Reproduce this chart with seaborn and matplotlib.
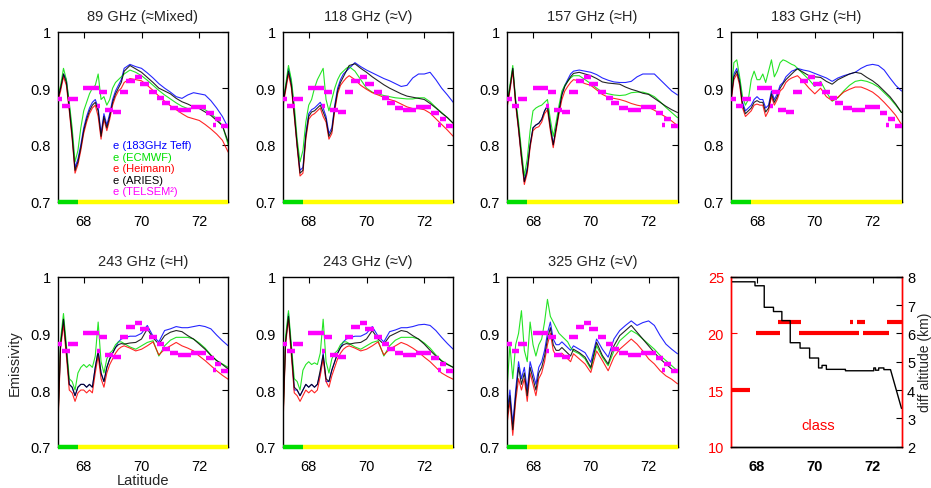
import matplotlib
matplotlib.use("Agg")
import matplotlib.pyplot as plt
import seaborn as sns
import pandas as pd

sns.set_theme(style="white")
plt.rcParams["font.family"] = ["Liberation Sans", "DejaVu Sans"]

# ---------------- data ----------------
LAT = [67.1, 67.2, 67.3, 67.4, 67.5, 67.6, 67.7, 67.8, 67.9, 68.0,
       68.1, 68.2, 68.3, 68.4, 68.5, 68.6, 68.7, 68.8, 68.9, 69.0,
       69.1, 69.2, 69.3,
       69.4, 69.6, 69.8, 70.0, 70.2, 70.4, 70.6, 70.8, 71.0, 71.2,
       71.4, 71.6, 71.8, 72.0, 72.2, 72.4, 72.6, 72.8, 73.0]

TITLES = ["89 GHz (≈Mixed)", "118 GHz (≈V)", "157 GHz (≈H)", "183 GHz (≈H)",
          "243 GHz (≈H)", "243 GHz (≈V)", "325 GHz (≈V)"]

SERIES = ["e (183GHz Teff)", "e (ECMWF)", "e (Heimann)", "e (ARIES)"]
COLORS = ["#0000ff", "#00e000", "#ff0000", "#000000"]

# 89 GHz
teff_89 = [.880, .900, .925, .915, .870, .820, .760, .775, .800, .830, .850, .865, .875, .880, .865, .820, .855, .835, .855, .880, .895, .905, .915,
           .935, .942, .938, .935, .927, .918, .908, .900, .893, .885, .882, .888, .892, .890, .888, .878, .865, .850, .830]
ecmwf_89 = [.885, .905, .935, .915, .875, .830, .770, .790, .830, .860, .875, .890, .900, .905, .925, .880, .885, .870, .880, .900, .910, .915, .920,
            .925, .932, .928, .922, .914, .905, .896, .888, .881, .874, .868, .864, .865, .866, .862, .855, .846, .834, .800]
heim_89 = [.875, .895, .920, .905, .860, .810, .750, .765, .790, .820, .840, .855, .865, .870, .850, .810, .845, .825, .845, .870, .885, .895, .900,
           .910, .917, .915, .913, .905, .896, .886, .877, .869, .862, .855, .849, .846, .843, .836, .828, .819, .808, .787]
aries_89 = [.880, .900, .925, .910, .865, .815, .755, .770, .795, .825, .845, .860, .870, .875, .860, .815, .850, .830, .850, .875, .890, .900, .910,
            .930, .940, .934, .928, .919, .910, .900, .895, .890, .882, .876, .872, .867, .864, .858, .852, .843, .834, .805]
# 118 GHz
teff_118 = [.870, .900, .935, .910, .860, .800, .755, .760, .820, .855, .862, .865, .870, .875, .865, .850, .820, .830, .870, .900, .915, .925, .930,
            .935, .945, .938, .932, .927, .922, .917, .913, .908, .903, .905, .918, .925, .925, .928, .915, .900, .888, .875]
ecmwf_118 = [.875, .905, .940, .915, .870, .810, .770, .790, .840, .870, .880, .900, .915, .925, .935, .880, .860, .880, .900, .915, .925, .930, .935,
             .938, .930, .915, .900, .893, .890, .887, .885, .883, .882, .881, .881, .883, .883, .876, .866, .857, .848, .838]
heim_118 = [.865, .895, .925, .900, .850, .795, .745, .750, .810, .845, .852, .855, .860, .865, .850, .840, .810, .820, .860, .890, .905, .912, .918,
            .922, .915, .905, .898, .892, .888, .884, .880, .877, .872, .867, .864, .864, .862, .856, .846, .836, .826, .815]
aries_118 = [.870, .900, .930, .905, .855, .800, .750, .755, .815, .850, .858, .860, .865, .870, .858, .845, .815, .825, .865, .895, .910, .920, .930,
             .940, .943, .935, .928, .920, .913, .906, .900, .895, .890, .886, .884, .882, .880, .873, .865, .856, .848, .838]
# 157 GHz
teff_157 = [.870, .900, .935, .875, .830, .780, .735, .760, .800, .830, .835, .838, .845, .860, .870, .835, .800, .830, .860, .890, .905, .915, .925,
            .930, .932, .930, .928, .924, .918, .914, .911, .910, .910, .912, .920, .925, .925, .925, .915, .905, .895, .888]
ecmwf_157 = [.875, .905, .940, .880, .840, .790, .745, .775, .825, .860, .865, .868, .870, .875, .880, .845, .815, .840, .870, .895, .905, .912, .918,
             .922, .922, .915, .908, .900, .893, .890, .888, .887, .888, .892, .893, .893, .890, .885, .876, .866, .857, .848]
heim_157 = [.865, .895, .930, .870, .825, .775, .730, .750, .795, .825, .830, .832, .840, .855, .862, .825, .795, .825, .855, .880, .895, .903, .910,
            .915, .913, .908, .905, .897, .889, .884, .882, .880, .877, .873, .870, .868, .866, .861, .855, .849, .842, .834]
aries_157 = [.870, .900, .935, .875, .830, .780, .735, .755, .800, .830, .835, .838, .845, .860, .868, .830, .800, .830, .860, .888, .903, .912, .920,
             .926, .928, .925, .922, .917, .911, .909, .908, .907, .902, .898, .895, .891, .889, .882, .875, .868, .862, .857]
# 183 GHz
teff_183 = [.880, .925, .935, .915, .875, .860, .865, .870, .880, .885, .880, .880, .865, .870, .895, .880, .890, .905, .910, .920, .925, .930, .932,
            .935, .932, .930, .926, .922, .918, .912, .918, .922, .925, .928, .935, .940, .942, .940, .932, .918, .905, .895]
ecmwf_183 = [.885, .945, .950, .920, .885, .870, .880, .915, .930, .915, .915, .925, .910, .930, .950, .920, .930, .945, .950, .948, .945, .942, .940,
             .935, .925, .915, .903, .912, .893, .877, .883, .895, .905, .912, .914, .912, .908, .902, .892, .882, .870, .857]
heim_183 = [.875, .915, .925, .905, .865, .850, .855, .860, .870, .872, .870, .870, .850, .860, .885, .870, .880, .895, .900, .910, .915, .918, .920,
            .922, .912, .900, .890, .900, .885, .878, .884, .893, .898, .902, .902, .898, .893, .885, .875, .864, .852, .836]
aries_183 = [.880, .920, .930, .910, .870, .855, .860, .865, .875, .878, .875, .875, .858, .865, .890, .875, .885, .900, .908, .915, .920, .925, .930,
             .934, .928, .922, .920, .919, .912, .907, .915, .920, .925, .928, .926, .919, .913, .905, .895, .885, .872, .857]
# 243 GHz H
teff_243h = [.740, .880, .925, .870, .810, .805, .790, .805, .810, .810, .805, .810, .805, .840, .870, .830, .815, .840, .855, .865, .875, .885, .890,
             .892, .895, .895, .900, .914, .895, .885, .905, .908, .912, .910, .910, .912, .914, .912, .908, .897, .887, .878]
ecmwf_243h = [.730, .890, .935, .880, .820, .815, .800, .830, .840, .845, .840, .845, .840, .860, .920, .850, .830, .855, .865, .870, .880, .885, .885,
              .882, .876, .872, .878, .884, .887, .860, .878, .888, .893, .893, .893, .890, .883, .874, .862, .852, .846, .840]
heim_243h = [.720, .875, .915, .860, .800, .795, .780, .795, .800, .800, .795, .800, .795, .830, .860, .820, .805, .830, .845, .855, .865, .872, .876,
             .878, .874, .869, .872, .878, .885, .862, .872, .878, .884, .878, .874, .869, .860, .852, .843, .834, .826, .819]
aries_243h = [.730, .880, .925, .870, .810, .805, .790, .805, .810, .810, .805, .810, .805, .840, .868, .830, .815, .840, .855, .865, .875, .880, .882,
              .881, .883, .884, .890, .908, .892, .881, .896, .902, .905, .903, .896, .890, .881, .872, .861, .852, .845, .837]
# 243 GHz V
teff_243v = [.750, .885, .935, .870, .800, .800, .790, .800, .810, .805, .810, .805, .810, .830, .865, .815, .815, .835, .850, .865, .875, .885, .890,
             .892, .895, .895, .900, .912, .895, .885, .903, .906, .910, .910, .912, .915, .916, .914, .905, .893, .882, .872]
ecmwf_243v = [.730, .895, .940, .880, .820, .815, .800, .835, .845, .850, .845, .848, .845, .865, .925, .850, .830, .855, .865, .870, .880, .885, .885,
              .882, .876, .872, .878, .884, .887, .860, .878, .888, .893, .893, .893, .890, .883, .874, .862, .852, .846, .840]
heim_243v = [.720, .880, .925, .860, .795, .790, .780, .790, .800, .795, .800, .795, .800, .825, .855, .815, .805, .825, .840, .855, .865, .872, .876,
             .878, .874, .869, .872, .878, .885, .862, .872, .878, .884, .880, .874, .867, .858, .850, .840, .830, .824, .819]
aries_243v = [.730, .885, .930, .870, .805, .800, .790, .800, .810, .805, .810, .805, .810, .835, .862, .820, .815, .835, .850, .865, .875, .880, .882,
              .881, .883, .884, .890, .905, .890, .881, .895, .900, .905, .903, .896, .890, .881, .870, .860, .851, .845, .840]
# 325 GHz
teff_325 = [.76, .80, .74, .80, .85, .82, .84, .80, .85, .83, .81, .84, .85, .87, .90, .92, .89, .88, .88, .885, .88, .875, .87,
            .878, .872, .866, .849, .890, .872, .858, .890, .905, .914, .922, .914, .919, .922, .914, .896, .881, .872, .864]
ecmwf_325 = [.80, .88, .82, .88, .90, .94, .87, .85, .92, .88, .86, .88, .89, .92, .96, .93, .92, .91, .90, .895, .89, .885, .875,
             .869, .864, .855, .837, .878, .858, .843, .869, .887, .896, .905, .899, .890, .881, .872, .861, .852, .843, .834]
heim_325 = [.74, .78, .72, .78, .82, .80, .82, .78, .83, .81, .79, .82, .83, .85, .88, .90, .87, .86, .86, .865, .86, .855, .85,
            .864, .855, .846, .831, .869, .852, .834, .858, .872, .881, .890, .881, .869, .855, .846, .834, .825, .819, .811]
aries_325 = [.75, .79, .73, .79, .84, .81, .83, .79, .84, .82, .80, .83, .84, .86, .89, .91, .88, .87, .87, .875, .87, .865, .86,
             .872, .866, .858, .840, .884, .861, .846, .878, .896, .905, .914, .902, .890, .878, .866, .855, .846, .837, .831]

PANELS = [
    (teff_89, ecmwf_89, heim_89, aries_89),
    (teff_118, ecmwf_118, heim_118, aries_118),
    (teff_157, ecmwf_157, heim_157, aries_157),
    (teff_183, ecmwf_183, heim_183, aries_183),
    (teff_243h, ecmwf_243h, heim_243h, aries_243h),
    (teff_243v, ecmwf_243v, heim_243v, aries_243v),
    (teff_325, ecmwf_325, heim_325, aries_325),
]

# TELSEM^2 emissivity (same in all panels)
telsem_start = [67.10, 67.26, 67.47, 67.99, 68.53, 68.46, 68.73, 69.02, 69.25, 69.48, 69.77,
                69.94, 70.25, 70.52, 70.71, 70.98, 71.27, 71.73, 72.24, 72.53, 72.47, 72.76]
telsem_end = [67.26, 67.53, 67.79, 68.53, 68.79, 68.55, 69.02, 69.29, 69.54, 69.77, 70.02,
              70.25, 70.52, 70.78, 70.98, 71.27, 71.73, 72.24, 72.51, 72.76, 72.57, 73.00]
telsem_val = [.881, .869, .881, .901, .893, .869, .862, .858, .893, .912, .919,
              .908, .893, .882, .873, .865, .861, .866, .856, .846, .835, .834]

# surface type bar
surf_start = [67.1, 67.8]
surf_end = [67.8, 73.0]
surf_color = ["#00dd00", "#ffff00"]

# class (left axis) and diff altitude (right axis)
class_start = [67.10, 67.97, 68.72, 69.47, 71.23, 71.46, 71.66, 72.50]
class_end = [67.76, 68.78, 69.53, 71.52, 71.32, 71.73, 72.56, 73.00]
class_val = [15, 20, 21, 20, 21, 21, 20, 21]

alt_lat = [67.10, 67.93, 67.93, 68.25, 68.25, 68.57, 68.57, 68.86, 68.86, 69.15, 69.15,
           69.49, 69.49, 69.82, 69.82, 70.13, 70.13, 70.25, 70.25, 70.40, 70.40, 71.06,
           71.06, 72.04, 72.04, 72.10, 72.10, 72.21, 72.21, 72.39, 72.39, 72.62, 73.00]
alt_km = [7.82, 7.82, 7.68, 7.68, 6.92, 6.92, 6.77, 6.77, 6.45, 6.45, 5.67,
          5.67, 5.48, 5.48, 5.13, 5.13, 4.78, 4.78, 4.87, 4.87, 4.73, 4.73,
          4.68, 4.68, 4.78, 4.78, 4.70, 4.70, 4.78, 4.78, 4.72, 4.72, 3.35]

# ---------------- figure ----------------
W, H = 931, 489
FS = 10.5
fig = plt.figure(figsize=(W / 100, H / 100), dpi=100)
col_left = [57.7, 282.7, 507.0, 731.0]
row_top = [32.5, 277.7]
AW, AH = 170.5, 170.0


def add_ax(r, c):
    return fig.add_axes([col_left[c] / W, 1 - (row_top[r] + AH) / H, AW / W, AH / H])


def style(ax):
    ax.set_facecolor("white")
    for s in ax.spines.values():
        s.set_visible(True)
        s.set_color("black")
        s.set_linewidth(1.0)
    ax.tick_params(direction="in", length=4, width=0.8, top=True, right=True,
                   labelsize=FS, pad=5, colors="black")
    ax.tick_params(axis="x", pad=9)


positions = [(0, 0), (0, 1), (0, 2), (0, 3), (1, 0), (1, 1), (1, 2)]
for i, (r, c) in enumerate(positions):
    ax = add_ax(r, c)
    for vals, name, color in zip(PANELS[i], SERIES, COLORS):
        df = pd.DataFrame({"lat": LAT, "e": vals})
        sns.lineplot(data=df, x="lat", y="e", color=color, lw=0.8, alpha=0.85,
                     ax=ax, sort=False, estimator=None, legend=False)
    ax.hlines(telsem_val, telsem_start, telsem_end, colors="#ff00ff", lw=3.2, zorder=5)
    ax.hlines([0.7] * len(surf_start), surf_start, surf_end, colors=surf_color,
              lw=3.2, zorder=6, clip_on=False)
    ax.set_xlim(67.1, 73.0)
    ax.set_ylim(0.7, 1.0)
    ax.set_xticks([68, 70, 72])
    ax.set_yticks([0.7, 0.8, 0.9, 1.0])
    ax.set_yticklabels(["0.7", "0.8", "0.9", "1"])
    ax.set_xlabel("")
    ax.set_ylabel("")
    style(ax)
    ax.set_title(TITLES[i], fontsize=FS, pad=8.5)
    if i == 0:
        labels = SERIES + ["e (TELSEM²)"]
        lcolors = COLORS + ["#ff00ff"]
        for k, (lab, lc) in enumerate(zip(labels, lcolors)):
            ax.text(0.326, 0.33 - k * 0.067, lab, color=lc, fontsize=8,
                    transform=ax.transAxes, ha="left", va="center", zorder=7)
    if i == 4:
        ax.set_ylabel("Emissivity", fontsize=FS, labelpad=6)
        ax.set_xlabel("Latitude", fontsize=FS, labelpad=0)

# last panel
ax = add_ax(1, 3)
ax.hlines(class_val, class_start, class_end, colors="#ff0000", lw=3.0, zorder=4)
ax.set_xlim(67.1, 73.0)
ax.set_ylim(10, 25)
ax.set_xticks([68, 70, 72])
ax.set_yticks([10, 15, 20, 25])
style(ax)
ax.tick_params(right=False)
ax.tick_params(axis="y", colors="#ff0000")
for lbl in ax.get_xticklabels():
    lbl.set_fontweight("bold")
ax.text(0.51, 0.128, "class", color="#ff0000", fontsize=FS,
        transform=ax.transAxes, ha="center", va="center")

ax2 = ax.twinx()
sns.lineplot(x=alt_lat, y=alt_km, color="black", lw=1.0, ax=ax2, sort=False,
             estimator=None, legend=False)
ax2.set_xlim(67.1, 73.0)
ax2.set_ylim(2, 8)
ax2.set_yticks([2, 3, 4, 5, 6, 7, 8])
for s in ax2.spines.values():
    s.set_visible(True)
    s.set_color("black")
    s.set_linewidth(1.0)
ax2.spines["left"].set_color("#ff0000")
ax2.spines["right"].set_color("#ff0000")
ax.spines["left"].set_color("#ff0000")
ax.spines["right"].set_color("#ff0000")
ax2.tick_params(axis="y", direction="in", length=4, width=0.8, labelsize=FS, pad=4,
                right=True, left=False, colors="black")
ax2.set_ylabel("")
ax2.text(1.138, 0.5, "diff altitude (km)", fontsize=10, rotation=90,
         ha="center", va="center", transform=ax2.transAxes)

fig.savefig("out.png", dpi=100, facecolor="white")
